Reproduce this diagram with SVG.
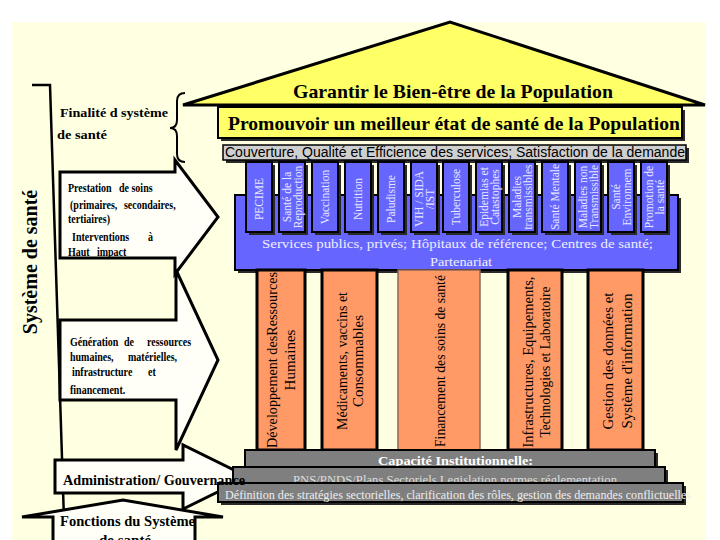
<svg xmlns="http://www.w3.org/2000/svg" width="720" height="540" viewBox="0 0 720 540">
<style>
.ser{font-family:"Liberation Serif","Times New Roman",serif}
.sans{font-family:"Liberation Sans",Arial,sans-serif}
.b{font-weight:bold}
.sh{fill:#2a2a2a}
.yel{fill:#FFFF66;stroke:#000;stroke-width:2}
.blue{fill:#6666FF;stroke:#000;stroke-width:2}
.ora{fill:#FF9966;stroke:#000;stroke-width:3}
.gray{fill:#7F7F7F;stroke:#000;stroke-width:2}
.arr{fill:#FFFFF8;stroke:#000;stroke-width:3;stroke-linejoin:miter}
.ct{font-family:"Liberation Serif","Times New Roman",serif;font-size:11.5px;fill:#E8E8FF;text-anchor:middle}
.pt{font-family:"Liberation Serif","Times New Roman",serif;font-size:15px;fill:#000;text-anchor:middle}
.lt{font-family:"Liberation Serif","Times New Roman",serif;font-size:11.5px;font-weight:bold;fill:#000}
</style>
<rect x="0" y="0" width="720" height="540" fill="#FFFFFF"/>
<rect x="12" y="22" width="694" height="518" fill="#FFFFE1"/>

<g id="connectors">
<path d="M32,85 L50,85 L64,520" fill="none" stroke="#000" stroke-width="2.5"/>
<path d="M185,93 Q177,93 177,101 L177,120 Q177,128 170,128 Q177,128 177,136 L177,154 Q177,162 185,162" fill="none" stroke="#000" stroke-width="2"/>
</g>

<g id="systeme-label">
<text class="ser b" font-size="20" text-anchor="middle" transform="translate(37,262) rotate(-90)">Système de santé</text>
</g>

<g id="finalite">
<text class="ser b" font-size="13" x="60" y="117" textLength="108" lengthAdjust="spacingAndGlyphs">Finalité d système</text>
<text class="ser b" font-size="13" x="57" y="139" textLength="50" lengthAdjust="spacingAndGlyphs">de santé</text>
</g>

<g id="roof">
<polygon points="183,105 450,22 705,105" fill="#FFFF66" stroke="#000" stroke-width="3" stroke-linejoin="miter"/>
<text class="ser b" font-size="19" x="293" y="98" textLength="320" lengthAdjust="spacingAndGlyphs">Garantir le Bien-être de la Population</text>
</g>

<g id="promouvoir">
<rect class="sh" x="221" y="110" width="464" height="31"/>
<rect class="yel" x="218" y="107" width="464" height="31"/>
<text class="ser b" font-size="19" x="228" y="130" textLength="452" lengthAdjust="spacingAndGlyphs">Promouvoir un meilleur état de santé de la Population</text>
</g>

<g id="couverture">
<rect class="sh" x="226" y="148" width="463" height="15"/>
<rect x="223" y="145" width="463" height="15" fill="#CFCFCF" stroke="#000" stroke-width="1.5"/>
<text class="sans" font-size="14" x="225" y="157" textLength="460" lengthAdjust="spacingAndGlyphs" fill="#000">Couverture, Qualité et Efficience des services; Satisfaction de la demande</text>
</g>

<g id="services">
<rect class="sh" x="238" y="198" width="443" height="75"/>
<rect class="blue" x="235" y="195" width="443" height="75"/>
<text class="ser" font-size="13.5" fill="#EEEEFF" x="262" y="248" textLength="391" lengthAdjust="spacingAndGlyphs">Services publics, privés; Hôpitaux de référence; Centres de santé;</text>
<text class="ser" font-size="13.5" fill="#EEEEFF" x="430" y="266" textLength="62" lengthAdjust="spacingAndGlyphs">Partenariat</text>
</g>

<g id="programmes">
<g id="col-pecime"><rect class="sh" x="249" y="165" width="26" height="70"/><rect class="blue" x="246" y="162" width="26" height="70"/><text class="ct" transform="translate(259,199) rotate(-90)" y="4">PECIME</text></g>
<g id="col-sr"><rect class="sh" x="282" y="165" width="26" height="70"/><rect class="blue" x="279" y="162" width="26" height="70"/><text class="ct" transform="translate(292,197) rotate(-90)"><tspan x="0" y="-1.5">Santé de la</tspan><tspan x="0" y="9.5">Reproduction</tspan></text></g>
<g id="col-vacc"><rect class="sh" x="315" y="165" width="26" height="70"/><rect class="blue" x="312" y="162" width="26" height="70"/><text class="ct" transform="translate(325,197) rotate(-90)" y="4">Vaccination</text></g>
<g id="col-nut"><rect class="sh" x="348" y="165" width="26" height="70"/><rect class="blue" x="345" y="162" width="26" height="70"/><text class="ct" transform="translate(358,199) rotate(-90)" y="4">Nutrition</text></g>
<g id="col-palu"><rect class="sh" x="381" y="165" width="26" height="70"/><rect class="blue" x="378" y="162" width="26" height="70"/><text class="ct" transform="translate(391,199) rotate(-90)" y="4">Paludisme</text></g>
<g id="col-vih"><rect class="sh" x="414" y="165" width="26" height="70"/><rect class="blue" x="411" y="162" width="26" height="70"/><text class="ct" transform="translate(424,199) rotate(-90)"><tspan x="0" y="-1.5">VIH / SIDA</tspan><tspan x="0" y="9.5">/IST</tspan></text></g>
<g id="col-tb"><rect class="sh" x="446" y="165" width="26" height="70"/><rect class="blue" x="443" y="162" width="26" height="70"/><text class="ct" transform="translate(456,197) rotate(-90)" y="4">Tuberculose</text></g>
<g id="col-epi"><rect class="sh" x="479" y="165" width="26" height="70"/><rect class="blue" x="476" y="162" width="26" height="70"/><text class="ct" transform="translate(489,197) rotate(-90)"><tspan x="0" y="-1.5">Epidemias et</tspan><tspan x="0" y="9.5">Catastophes</tspan></text></g>
<g id="col-mt"><rect class="sh" x="512" y="165" width="26" height="70"/><rect class="blue" x="509" y="162" width="26" height="70"/><text class="ct" transform="translate(522,197) rotate(-90)"><tspan x="0" y="-1.5">Maladies</tspan><tspan x="0" y="9.5">transmissibles</tspan></text></g>
<g id="col-sm"><rect class="sh" x="545" y="165" width="26" height="70"/><rect class="blue" x="542" y="162" width="26" height="70"/><text class="ct" transform="translate(555,197) rotate(-90)" y="4">Santé Mentale</text></g>
<g id="col-mnt"><rect class="sh" x="578" y="165" width="26" height="70"/><rect class="blue" x="575" y="162" width="26" height="70"/><text class="ct" transform="translate(588,197) rotate(-90)"><tspan x="0" y="-1.5">Maladies non</tspan><tspan x="0" y="9.5">Transmissible</tspan></text></g>
<g id="col-env"><rect class="sh" x="611" y="165" width="26" height="70"/><rect class="blue" x="608" y="162" width="26" height="70"/><text class="ct" transform="translate(621,197) rotate(-90)"><tspan x="0" y="-1.5">Santé</tspan><tspan x="0" y="9.5">Environnem</tspan></text></g>
<g id="col-promo"><rect class="sh" x="644" y="165" width="26" height="70"/><rect class="blue" x="641" y="162" width="26" height="70"/><text class="ct" transform="translate(654,197) rotate(-90)"><tspan x="0" y="-1.5">Promotion de</tspan><tspan x="0" y="9.5">la santé</tspan></text></g>
</g>

<g id="pillars">
<g id="pillar-rh"><rect class="ora" x="257" y="270" width="48" height="180"/><text class="pt" transform="translate(281,360) rotate(-90)"><tspan x="0" y="-4" textLength="176" lengthAdjust="spacingAndGlyphs">Développement desRessources</tspan><tspan x="0" y="14">Humaines</tspan></text></g>
<g id="pillar-med"><rect class="ora" x="322" y="270" width="55" height="180"/><text class="pt" transform="translate(350,361) rotate(-90)"><tspan x="0" y="-3" textLength="138" lengthAdjust="spacingAndGlyphs">Médicaments, vaccins et</tspan><tspan x="0" y="13" textLength="92" lengthAdjust="spacingAndGlyphs">Consommables</tspan></text></g>
<g id="pillar-fin"><rect x="398" y="270" width="82" height="180" fill="#FF9966" stroke="#8a6a55" stroke-width="1.5"/><text class="pt" transform="translate(440,361) rotate(-90)" y="5" textLength="172" lengthAdjust="spacingAndGlyphs">Financement des soins de santé</text></g>
<g id="pillar-inf"><rect class="ora" x="508" y="270" width="54" height="180"/><text class="pt" transform="translate(535,362) rotate(-90)"><tspan x="0" y="-2" textLength="171" lengthAdjust="spacingAndGlyphs">Infrastructures, Equipements,</tspan><tspan x="0" y="15" textLength="151" lengthAdjust="spacingAndGlyphs">Technologies et Laboratoire</tspan></text></g>
<g id="pillar-sig"><rect class="ora" x="588" y="270" width="55" height="180"/><text class="pt" transform="translate(615,361) rotate(-90)"><tspan x="0" y="-2" textLength="137" lengthAdjust="spacingAndGlyphs">Gestion des données et</tspan><tspan x="0" y="17" textLength="135" lengthAdjust="spacingAndGlyphs">Système d'information</tspan></text></g>
</g>

<g id="prestation">
<polygon class="arr" points="60,172 175,172 175,160 218,217 175,274 175,258 60,258"/>
<text class="lt" transform="translate(68,192) scale(0.87,1)"><tspan x="0">Prestation</tspan><tspan x="58.6">de soins</tspan></text>
<text class="lt" transform="translate(70,209) scale(0.87,1)"><tspan x="0">(primaires,</tspan><tspan x="62">secondaires,</tspan></text>
<text class="lt" transform="translate(68,223) scale(0.87,1)">tertiaires)</text>
<text class="lt" transform="translate(72,241) scale(0.87,1)"><tspan x="0">Interventions</tspan><tspan x="87.4">à</tspan></text>
<text class="lt" transform="translate(68,256) scale(0.87,1)"><tspan x="0">Haut</tspan><tspan x="33.3">impact</tspan></text>
</g>

<g id="generation">
<polygon class="arr" points="60,320 176,320 176,270 218,360 176,450 176,400 60,400"/>
<text class="lt" transform="translate(70,346) scale(0.87,1)"><tspan x="0">Génération</tspan><tspan x="62">de</tspan><tspan x="88.5">ressources</tspan></text>
<text class="lt" transform="translate(70,361) scale(0.87,1)"><tspan x="0">humaines,</tspan><tspan x="66.7">matérielles,</tspan></text>
<text class="lt" transform="translate(72,376) scale(0.87,1)"><tspan x="0">infrastructure</tspan><tspan x="87.4">et</tspan></text>
<text class="lt" transform="translate(70,394) scale(0.87,1)">financement.</text>
</g>

<g id="administration">
<polygon class="arr" points="55,460 183,460 183,445 248,477 183,509 183,493 55,493"/>
</g>

<g id="capacite">
<rect class="sh" x="248" y="453" width="410" height="17"/>
<rect class="gray" x="245" y="450" width="410" height="17"/>
<text class="ser b" font-size="13" fill="#FFFFFF" x="378" y="465" textLength="155" lengthAdjust="spacingAndGlyphs">Capacité Institutionnelle:</text>
</g>
<g id="pns">
<rect class="sh" x="236" y="470" width="432" height="16"/>
<rect class="gray" x="233" y="467" width="432" height="16"/>
<text class="ser" font-size="12.5" fill="#DDDDDD" x="293" y="484" textLength="324" lengthAdjust="spacingAndGlyphs">PNS/PNDS/Plans Sectoriels Legislation normes réglementation</text>
</g>
<g id="definition">
<rect class="sh" x="221" y="486" width="465" height="19"/>
<rect class="gray" x="218" y="483" width="465" height="19"/>
<text class="ser" font-size="12.5" fill="#EEEEEE" x="225" y="499" textLength="466" lengthAdjust="spacingAndGlyphs">Définition des stratégies sectorielles, clarification des rôles, gestion des demandes conflictuelles</text>
</g>

<text id="administration-label" class="ser b" font-size="15" x="63" y="485" textLength="182" lengthAdjust="spacingAndGlyphs">Administration/ Gouvernance</text>

<g id="fonctions">
<polygon class="arr" points="53,545 53,517 22,517 123,500 223,517 195,517 195,545"/>
<text class="ser b" font-size="15" x="60" y="526" textLength="135" lengthAdjust="spacingAndGlyphs">Fonctions du Système</text>
<text class="ser b" font-size="15" x="125" y="545" text-anchor="middle">de santé</text>
</g>
</svg>
